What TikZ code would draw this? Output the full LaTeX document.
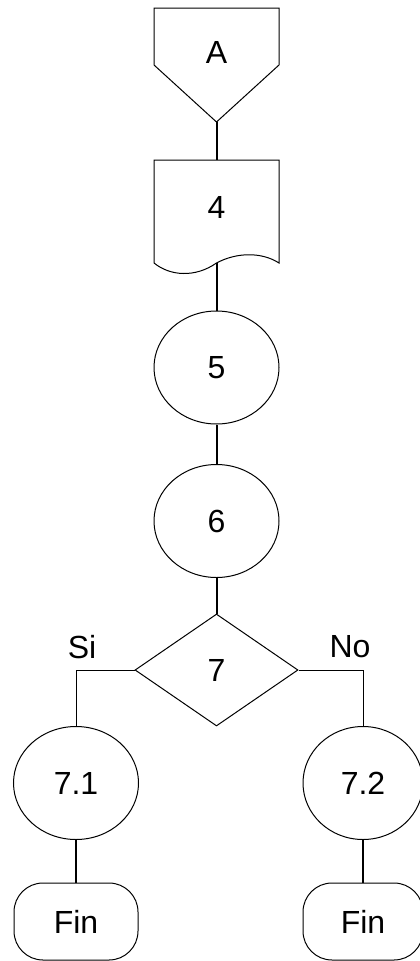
\documentclass[tikz,border=0pt]{standalone}
\usepackage{fontspec}
\setmainfont{Liberation Sans}
\usetikzlibrary{shapes.geometric}

\begin{document}
\begin{tikzpicture}[x=1pt,y=-1pt,
            every node/.style={font=\fontsize{32}{36}\selectfont},
            shp/.style={draw,line width=1pt,inner sep=0pt},
            proc/.style={shp,ellipse,minimum width=125pt,minimum height=113pt},
            fin/.style={shp,rectangle,rounded corners=29pt,minimum width=124pt,minimum height=77pt},
            link/.style={line width=2pt},
            branch/.style={line width=1pt}]
            \useasboundingbox (0,0) rectangle (420,961);

            % off-page connector and document
            \draw [shp] (154,8) -- (279,8) -- (279,65) -- (216.5,122) coordinate (Atip)
                -- (154,65) -- cycle;
            \node (A) at (216.5,52) {A};
            \draw [shp] (154,263) -- (154,160) -- (279,160) -- (279,263)
                .. controls (262,252) and (237,252) .. (216.5,263) coordinate (Dbot)
                .. controls (195,278) and (170,276) .. (154,263);
            \node (D4) at (216.5,207) {4};

            \begin{scope}[every node/.append style={proc}]
                \node (P5) at (216.5,367.5) {5};
                \node (P6) at (216.5,521) {6};
                \node (P71) at (76,783) {7.1};
                \node [minimum width=120pt] (P72) at (363,783) {7.2};
            \end{scope}

            \node [shp,diamond,minimum width=163pt,minimum height=112pt] (Q7) at (216.5,670) {7};
            \node (Si) at (82,647) {Si};
            \node (No) at (350,647) {No};

            \node [fin] (F1) at (76,921.5) {Fin};
            \node [fin,minimum width=120pt] (F2) at (363,921.5) {Fin};

            \begin{scope}
                \draw [link] (Atip) -- (216.5,160);
                \draw [link] (Dbot) -- (P5);
                \draw [link] (P5) -- (P6);
                \draw [link] (P6) -- (Q7);
                \draw [branch] (Q7.west) -| (P71.north);
                \draw [branch] (Q7.east) -| (P72.north);
                \draw [link] (P71) -- (F1);
                \draw [link] (P72) -- (F2);
            \end{scope}
\end{tikzpicture}
\end{document}
